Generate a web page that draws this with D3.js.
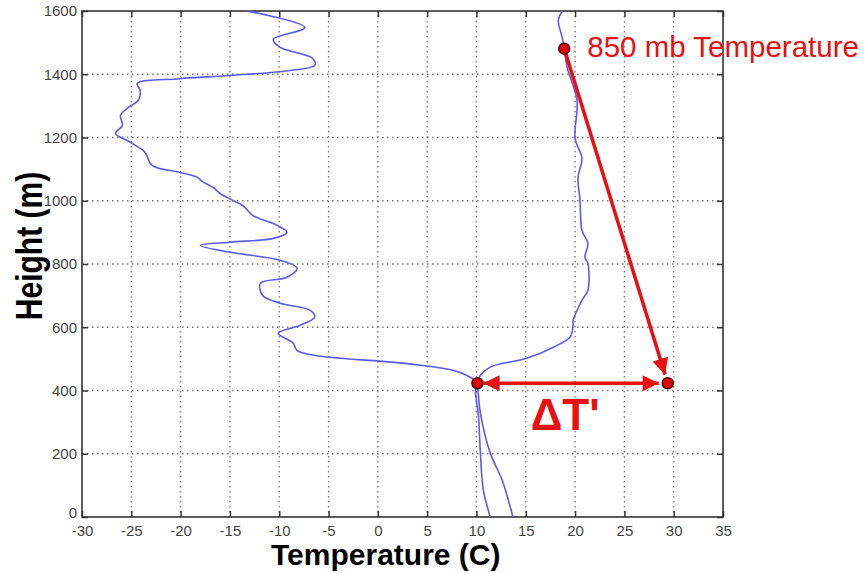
<!DOCTYPE html>
<html>
<head>
<meta charset="utf-8">
<script src="https://d3js.org/d3.v7.min.js"></script>
<style>
  body { margin: 0; background: #fff; }
  text { font-family: Arial, "Liberation Sans", sans-serif; }
</style>
</head>
<body>
<svg width="868" height="573"></svg>
<script>
// wiggly profile (left), read bottom to top: height (m) and temperature (C)
var dewHeight = [0, 85, 202, 320, 401, 423, 448, 464, 480, 492, 502, 512, 527, 550, 581, 606, 632, 654, 676, 701, 739, 758, 787, 812, 837, 859, 869, 881, 900, 922, 954, 985, 1001, 1023, 1042, 1061, 1074, 1090, 1112, 1153, 1185, 1213, 1238, 1270, 1295, 1317, 1349, 1371, 1386, 1396, 1412, 1428, 1450, 1485, 1510, 1548, 1600];
var dewTemp   = [11.4, 10.7, 10.4, 10.2, 9.9, 10.1, 9.0, 7.6, 4.3, 0.5, -3.8, -6.6, -8.2, -8.6, -10.1, -7.9, -6.4, -6.9, -9.9, -11.7, -11.9, -9.2, -8.2, -9.9, -15, -18, -15, -10.6, -9.2, -10.2, -12.7, -13.7, -14.7, -16, -16.7, -17.8, -18.3, -20.1, -22.9, -23.6, -25.1, -26.6, -25.9, -26.1, -25.3, -24.3, -24.1, -24.4, -20.1, -15, -8.9, -6.4, -6.6, -9.9, -10.6, -7.4, -13.3];

// smooth profile (right)
var tempHeight = [0, 117, 202, 328, 385, 423, 448, 474, 502, 537, 569, 606, 622, 685, 717, 802, 821, 865, 906, 1001, 1074, 1134, 1197, 1317, 1421, 1481, 1516, 1570, 1600];
var tempTemp   = [13.7, 12.6, 11.4, 10.4, 10.2, 10.1, 10.4, 11.4, 15.1, 17.8, 19.5, 19.8, 19.8, 20.7, 21.3, 21.3, 21.0, 21.3, 20.7, 20.5, 20.3, 20.7, 20.0, 20.2, 19.2, 18.9, 18.7, 18.3, 18.7];

// annotation points: 850 mb point, inversion base, lifted 850 mb temperature
var markT = [18.9, 10.1, 29.4];
var markH = [1481, 423, 423];

var xTicks = d3.range(-30, 36, 5);
var yTicks = d3.range(0, 1601, 200);

var svg = d3.select("svg");
var margin = {top: 11, right: 145, bottom: 56, left: 82};
var width = 868 - margin.left - margin.right,
    height = 573 - margin.top - margin.bottom;

var g = svg.append("g").attr("transform", "translate(" + margin.left + "," + margin.top + ")");

var x = d3.scaleLinear().domain([-30, 35]).range([0, width]);
var y = d3.scaleLinear().domain([0, 1600]).range([height, 0]);

// dotted grid
g.append("g").selectAll("line").data(xTicks.slice(1, -1)).enter().append("line")
  .attr("x1", function(d) { return x(d); }).attr("x2", function(d) { return x(d); })
  .attr("y1", 0).attr("y2", height)
  .attr("stroke", "#777").attr("stroke-width", 1.3).attr("stroke-dasharray", "1.5,3.5");
g.append("g").selectAll("line").data(yTicks.slice(1, -1)).enter().append("line")
  .attr("y1", function(d) { return y(d); }).attr("y2", function(d) { return y(d); })
  .attr("x1", 0).attr("x2", width)
  .attr("stroke", "#777").attr("stroke-width", 1.3).attr("stroke-dasharray", "1.5,3.5");

function styleAxis(sel) {
  sel.select(".domain").remove();
  sel.selectAll(".tick line").attr("stroke", "#333").attr("stroke-width", 1.5);
  sel.selectAll("text").attr("fill", "#444").style("font-size", "15px")
    .style("font-family", "Arial, 'Liberation Sans', sans-serif");
}
var plain = function(d) { return String(d); };

g.append("g").attr("transform", "translate(0," + height + ")")
  .call(d3.axisBottom(x).tickValues(xTicks).tickSize(-6).tickPadding(8).tickFormat(plain))
  .call(styleAxis);
g.append("g")
  .call(d3.axisTop(x).tickValues(xTicks).tickSize(-6).tickFormat(""))
  .call(styleAxis);
var yAxisG = g.append("g")
  .call(d3.axisLeft(y).tickValues(yTicks).tickSize(-6).tickPadding(5).tickFormat(plain))
  .call(styleAxis);
yAxisG.selectAll("text").filter(function(d) { return d === 0; }).attr("dy", "0.05em");
g.append("g").attr("transform", "translate(" + width + ",0)")
  .call(d3.axisRight(y).tickValues(yTicks).tickSize(-6).tickFormat(""))
  .call(styleAxis);

g.append("rect").attr("width", width).attr("height", height)
  .attr("fill", "none").attr("stroke", "#333").attr("stroke-width", 1.6);

var line = d3.line()
  .curve(d3.curveCatmullRom.alpha(0.5))
  .x(function(d) { return x(d[0]); })
  .y(function(d) { return y(d[1]); });

g.append("path").datum(d3.zip(dewTemp, dewHeight))
  .attr("d", line).attr("fill", "none").attr("stroke", "#5a5af0").attr("stroke-width", 1.6);
g.append("path").datum(d3.zip(tempTemp, tempHeight))
  .attr("d", line).attr("fill", "none").attr("stroke", "#5a5af0").attr("stroke-width", 1.6);

// red annotations
var red = "#e81010";
var defs = svg.append("defs");
defs.append("marker").attr("id", "head").attr("viewBox", "0 0 10 10")
  .attr("refX", 10).attr("refY", 5).attr("markerWidth", 5).attr("markerHeight", 4.6)
  .attr("markerUnits", "strokeWidth").attr("orient", "auto-start-reverse")
  .append("path").attr("d", "M0,0L10,5L0,10z").attr("fill", red);

function shorten(x0, y0, x1, y1, d) {
  var len = Math.hypot(x1 - x0, y1 - y0);
  return [x1 - (x1 - x0) * d / len, y1 - (y1 - y0) * d / len];
}

var p = markT.map(function(t, i) { return [x(t), y(markH[i])]; });

var e1 = shorten(p[0][0], p[0][1], p[2][0], p[2][1], 9);
g.append("line").attr("x1", p[0][0]).attr("y1", p[0][1]).attr("x2", e1[0]).attr("y2", e1[1])
  .attr("stroke", red).attr("stroke-width", 3.5).attr("marker-end", "url(#head)");

g.append("line").attr("x1", p[1][0] + 6).attr("y1", p[1][1]).attr("x2", p[2][0] - 9).attr("y2", p[2][1])
  .attr("stroke", red).attr("stroke-width", 3.5)
  .attr("marker-start", "url(#head)").attr("marker-end", "url(#head)");

g.append("g").selectAll("circle").data(p).enter().append("circle")
  .attr("cx", function(d) { return d[0]; }).attr("cy", function(d) { return d[1]; })
  .attr("r", 5.5).attr("fill", "#e00000").attr("stroke", "#550000").attr("stroke-width", 1.5);

g.append("text").attr("x", p[0][0] + 23).attr("y", p[0][1] + 8)
  .attr("fill", red).style("font-size", "29.5px").text("850 mb Temperature");

g.append("text").attr("x", x(15.5)).attr("y", y(423) + 47)
  .attr("fill", red).style("font-size", "44px").style("font-weight", "bold").text("\u0394T'");

// axis titles
svg.append("text").attr("x", margin.left + x(0.8)).attr("y", 565)
  .attr("text-anchor", "middle").style("font-size", "30px").style("font-weight", "bold")
  .text("Temperature (C)");
svg.append("text").attr("transform", "translate(42,246) scale(1.2,1) rotate(-90)")
  .attr("text-anchor", "middle").style("font-size", "30px").style("font-weight", "bold")
  .text("Height (m)");
</script>
</body>
</html>
